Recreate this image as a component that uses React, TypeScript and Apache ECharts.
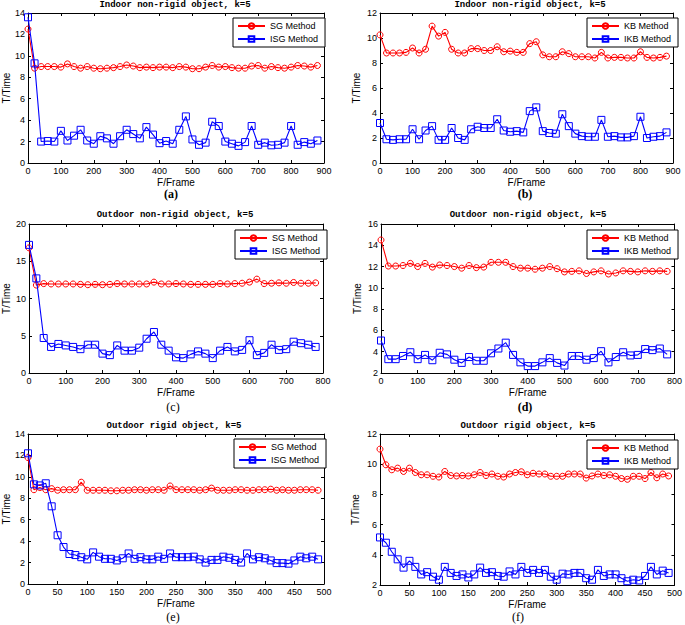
import React, { useEffect, useRef } from "react";
import * as echarts from "echarts";

// ---------- frames (x values) ----------
const FRAMES_900 = [0, 20, 40, 60, 80, 100, 120, 140, 160, 180, 200, 220, 240, 260, 280, 300, 320, 340, 360, 380, 400, 420, 440, 460, 480, 500, 520, 540, 560, 580, 600, 620, 640, 660, 680, 700, 720, 740, 760, 780, 800, 820, 840, 860, 880];
const FRAMES_800 = [0, 20, 40, 60, 80, 100, 120, 140, 160, 180, 200, 220, 240, 260, 280, 300, 320, 340, 360, 380, 400, 420, 440, 460, 480, 500, 520, 540, 560, 580, 600, 620, 640, 660, 680, 700, 720, 740, 760, 780];
const FRAMES_500 = [0, 10, 20, 30, 40, 50, 60, 70, 80, 90, 100, 110, 120, 130, 140, 150, 160, 170, 180, 190, 200, 210, 220, 230, 240, 250, 260, 270, 280, 290, 300, 310, 320, 330, 340, 350, 360, 370, 380, 390, 400, 410, 420, 430, 440, 450, 460, 470, 480, 490];

// ---------- (a) Indoor non-rigid, SG / ISG ----------
const A_SG = [12.5, 8.85, 9.0, 9.0, 9.0, 8.95, 9.25, 9.0, 8.85, 9.0, 8.85, 8.8, 8.85, 8.9, 9.0, 9.15, 9.05, 8.9, 8.95, 8.9, 8.95, 8.95, 8.9, 9.0, 8.95, 8.8, 8.8, 8.95, 9.1, 8.95, 9.0, 8.9, 8.85, 8.85, 9.05, 9.1, 8.85, 9.0, 8.9, 8.85, 8.95, 9.1, 9.05, 8.95, 9.1];
const A_ISG = [13.6, 9.3, 2.0, 2.05, 2.0, 3.0, 2.1, 2.55, 3.1, 2.1, 1.8, 2.5, 2.3, 1.8, 2.5, 3.1, 2.7, 2.3, 3.35, 2.65, 1.85, 2.05, 1.8, 3.1, 4.35, 2.2, 1.7, 1.9, 3.85, 3.45, 2.0, 1.8, 1.6, 1.95, 3.45, 1.7, 1.9, 1.65, 1.7, 1.9, 3.45, 1.7, 1.95, 1.8, 2.1];

// ---------- (b) Indoor non-rigid, KB / IKB ----------
const B_KB = [10.25, 8.8, 8.8, 8.8, 8.85, 9.2, 8.8, 9.1, 10.95, 10.15, 10.45, 9.1, 8.8, 8.8, 9.15, 9.15, 9.0, 9.0, 9.3, 8.9, 8.95, 8.85, 8.85, 9.55, 9.7, 8.65, 8.5, 8.5, 8.9, 8.75, 8.5, 8.5, 8.5, 8.4, 8.85, 8.4, 8.45, 8.45, 8.4, 8.4, 8.9, 8.45, 8.4, 8.45, 8.55];
const B_IKB = [3.2, 1.9, 1.85, 1.9, 1.9, 2.7, 1.9, 2.6, 2.95, 1.85, 1.85, 2.8, 2.0, 1.85, 2.7, 2.9, 2.8, 2.8, 3.5, 2.6, 2.5, 2.55, 2.45, 4.15, 4.45, 2.55, 2.4, 2.35, 3.9, 2.95, 2.35, 2.15, 2.1, 2.1, 3.45, 2.1, 2.15, 2.05, 2.05, 2.15, 3.7, 2.0, 2.1, 2.15, 2.45];

// ---------- (c) Outdoor non-rigid, SG / ISG ----------
const C_SG = [16.8, 11.8, 12.0, 11.95, 11.95, 11.95, 11.95, 11.9, 11.85, 11.9, 11.85, 11.9, 12.0, 11.95, 11.95, 11.95, 11.95, 12.2, 11.95, 11.95, 12.0, 11.95, 11.9, 11.9, 11.9, 11.9, 12.0, 11.95, 12.0, 12.05, 12.2, 12.6, 12.0, 12.05, 12.1, 12.05, 12.15, 12.05, 12.05, 12.1];
const C_ISG = [17.2, 12.7, 4.7, 3.5, 3.9, 3.7, 3.5, 3.2, 3.8, 3.8, 2.6, 2.4, 3.7, 3.0, 3.0, 3.4, 4.6, 5.5, 3.8, 3.0, 2.1, 2.0, 2.5, 2.9, 2.6, 2.0, 3.0, 3.5, 2.9, 3.1, 4.4, 2.4, 2.7, 3.8, 3.1, 3.2, 4.2, 4.0, 3.8, 3.5];

// ---------- (d) Outdoor non-rigid, KB / IKB ----------
const D_KB = [14.5, 12.05, 12.05, 12.1, 12.3, 12.0, 12.3, 11.95, 12.15, 12.1, 12.0, 11.85, 12.1, 11.9, 11.95, 12.4, 12.4, 12.4, 12.0, 11.85, 11.85, 11.75, 11.85, 12.0, 11.8, 11.5, 11.55, 11.6, 11.35, 11.5, 11.6, 11.3, 11.4, 11.6, 11.55, 11.5, 11.6, 11.55, 11.6, 11.55];
const D_IKB = [5.05, 3.3, 3.3, 3.6, 3.95, 3.3, 3.7, 3.2, 3.9, 3.75, 3.25, 2.95, 3.5, 3.15, 3.15, 3.85, 4.3, 4.85, 3.7, 3.0, 2.65, 2.65, 3.0, 3.4, 2.95, 2.7, 3.6, 3.6, 3.25, 3.4, 4.05, 3.0, 3.5, 3.95, 3.65, 3.7, 4.25, 4.15, 4.3, 3.75];

// ---------- (e) Outdoor rigid, SG / ISG ----------
const E_SG = [11.8, 8.8, 9.0, 8.8, 8.9, 8.75, 8.8, 8.8, 8.8, 9.5, 8.75, 8.75, 8.75, 8.75, 8.7, 8.7, 8.75, 8.75, 8.8, 8.8, 8.75, 8.8, 8.8, 8.75, 9.15, 8.8, 8.8, 8.8, 8.8, 8.75, 8.8, 8.95, 8.75, 8.75, 8.75, 8.8, 8.8, 8.75, 8.75, 8.8, 8.8, 8.85, 8.75, 8.8, 8.75, 8.75, 8.8, 8.8, 8.8, 8.75];
const E_ISG = [12.2, 9.3, 9.2, 9.4, 7.25, 4.55, 3.45, 2.8, 2.7, 2.5, 2.3, 2.95, 2.55, 2.35, 2.35, 2.2, 2.4, 2.85, 2.35, 2.5, 2.3, 2.3, 2.55, 2.35, 2.85, 2.5, 2.5, 2.5, 2.55, 2.3, 2.0, 2.25, 2.25, 2.55, 2.45, 2.25, 2.0, 2.85, 2.3, 2.5, 2.4, 2.2, 1.95, 1.95, 1.9, 2.2, 2.55, 2.4, 2.55, 2.3];

// ---------- (f) Outdoor rigid, KB / IKB ----------
const F_KB = [11.0, 9.96, 9.63, 9.74, 9.52, 9.74, 9.45, 9.3, 9.3, 9.2, 9.15, 9.52, 9.25, 9.22, 9.25, 9.22, 9.3, 9.45, 9.25, 9.35, 9.2, 9.15, 9.35, 9.45, 9.5, 9.3, 9.4, 9.35, 9.35, 9.2, 9.2, 9.2, 9.35, 9.35, 9.35, 9.08, 9.22, 9.35, 9.25, 9.3, 9.2, 9.05, 9.0, 9.2, 9.2, 9.05, 9.45, 9.1, 9.35, 9.22];
const F_IKB = [5.15, 4.8, 4.2, 3.7, 3.15, 3.6, 3.2, 2.7, 2.85, 2.55, 2.35, 3.2, 2.8, 2.6, 2.7, 2.5, 2.7, 3.15, 2.8, 2.85, 2.6, 2.55, 2.9, 2.7, 3.2, 2.8, 3.0, 2.8, 3.0, 2.55, 2.35, 2.75, 2.7, 2.8, 2.8, 2.45, 2.35, 3.0, 2.6, 2.7, 2.7, 2.45, 2.25, 2.35, 2.3, 2.6, 3.2, 2.7, 2.95, 2.8];

// ---------- texts ----------
const TITLES = [
  "Indoor non-rigid object, k=5",
  "Indoor non-rigid object, k=5",
  "Outdoor non-rigid object, k=5",
  "Outdoor non-rigid object, k=5",
  "Outdoor rigid object, k=5",
  "Outdoor rigid object, k=5",
];
const SUB_LABELS = ["(a)", "(b)", "(c)", "(d)", "(e)", "(f)"];
const SERIES_NAMES = [
  ["SG Method", "ISG Method"],
  ["KB Method", "IKB Method"],
  ["SG Method", "ISG Method"],
  ["KB Method", "IKB Method"],
  ["SG Method", "ISG Method"],
  ["KB Method", "IKB Method"],
];
const X_NAME = "F/Frame";
const Y_NAME = "T/Time";

// ---------- layout (positions & styles) ----------
const PANELS = [
  { grid: { left: 27, top: 13, width: 297, height: 150 }, x: [0, 900, 100], y: [0, 14, 2], frames: FRAMES_900, red: A_SG, blue: A_ISG, legend: { left: 233, top: 18 }, title: [175, 5], sub: [171, 194, true], yGap: 17 },
  { grid: { left: 380, top: 13, width: 293, height: 150 }, x: [0, 900, 100], y: [0, 12, 2], frames: FRAMES_900, red: B_KB, blue: B_IKB, legend: { left: 587, top: 18 }, title: [530, 5], sub: [525, 194, true], yGap: 19 },
  { grid: { left: 28, top: 224, width: 295, height: 149 }, x: [0, 800, 100], y: [0, 20, 5], frames: FRAMES_800, red: C_SG, blue: C_ISG, legend: { left: 235, top: 230 }, title: [175, 215], sub: [173, 407, false], yGap: 18 },
  { grid: { left: 381, top: 224, width: 294, height: 149 }, x: [0, 800, 100], y: [2, 16, 2], frames: FRAMES_800, red: D_KB, blue: D_IKB, legend: { left: 587, top: 230 }, title: [528, 215], sub: [525, 407, true], yGap: 19 },
  { grid: { left: 27, top: 434, width: 297, height: 150 }, x: [0, 500, 50], y: [0, 14, 2], frames: FRAMES_500, red: E_SG, blue: E_ISG, legend: { left: 234, top: 439 }, title: [174, 426], sub: [173, 617, false], yGap: 17 },
  { grid: { left: 380, top: 434, width: 296, height: 151 }, x: [0, 500, 50], y: [2, 12, 2], frames: FRAMES_500, red: F_KB, blue: F_IKB, legend: { left: 587, top: 440 }, title: [528, 426], sub: [518, 617, false], yGap: 20 },
];

const RED = "#ff0000";
const BLUE = "#0000ff";
const SANS = "Liberation Sans, Arial, sans-serif";

function buildOption() {
  const grid: any[] = [];
  const xAxis: any[] = [];
  const yAxis: any[] = [];
  const series: any[] = [];
  const legend: any[] = [];
  const graphic: any[] = [];

  const axisLine = { show: true, onZero: false, lineStyle: { color: "#000", width: 1 } };
  const axisTick = { show: true, inside: true, length: 3, lineStyle: { color: "#000", width: 1 } };

  PANELS.forEach((p, i) => {
    grid.push({ ...p.grid, containLabel: false, show: true, backgroundColor: "#fff", borderWidth: 0 });
    xAxis.push({
      type: "value", gridIndex: i, position: "bottom", min: p.x[0], max: p.x[1], interval: p.x[2],
      axisLine, axisTick, splitLine: { show: false },
      axisLabel: { show: true, margin: 3, fontSize: 9, color: "#000", fontFamily: SANS },
      name: X_NAME, nameLocation: "middle", nameGap: 14,
      nameTextStyle: { fontSize: 10, color: "#000", fontFamily: SANS },
    });
    xAxis.push({
      type: "value", gridIndex: i, position: "top", min: p.x[0], max: p.x[1], interval: p.x[2],
      axisLine, axisTick, splitLine: { show: false }, axisLabel: { show: false },
    });
    yAxis.push({
      type: "value", gridIndex: i, position: "left", min: p.y[0], max: p.y[1], interval: p.y[2],
      axisLine, axisTick, splitLine: { show: false },
      axisLabel: { show: true, margin: 3, fontSize: 9, color: "#000", fontFamily: SANS },
      name: Y_NAME, nameLocation: "middle", nameGap: p.yGap,
      nameTextStyle: { fontSize: 10, color: "#000", fontFamily: SANS },
    });
    yAxis.push({
      type: "value", gridIndex: i, position: "right", min: p.y[0], max: p.y[1], interval: p.y[2],
      axisLine, axisTick, splitLine: { show: false }, axisLabel: { show: false },
    });

    const names = SERIES_NAMES[i];
    series.push({
      type: "line", name: names[0], xAxisIndex: 2 * i, yAxisIndex: 2 * i,
      data: p.frames.map((f, k) => [f, p.red[k]]),
      symbol: "circle", symbolSize: 6,
      lineStyle: { color: RED, width: 1.1 },
      itemStyle: { color: "rgba(255,255,255,0)", borderColor: RED, borderWidth: 1 },
      emphasis: { disabled: true },
      z: 2,
    });
    series.push({
      type: "line", name: names[1], xAxisIndex: 2 * i, yAxisIndex: 2 * i,
      data: p.frames.map((f, k) => [f, p.blue[k]]),
      symbol: "rect", symbolSize: 7,
      lineStyle: { color: BLUE, width: 1.1 },
      itemStyle: { color: "rgba(255,255,255,0)", borderColor: BLUE, borderWidth: 1 },
      emphasis: { disabled: true },
      z: 3,
    });

    legend.push({
      data: names, orient: "vertical", left: p.legend.left, top: p.legend.top,
      backgroundColor: "#fff", borderColor: "#000", borderWidth: 1, borderRadius: 0,
      padding: [3, 7, 3, 4], itemGap: 3, itemWidth: 27, itemHeight: 7,
      textStyle: { fontSize: 9, color: "#000", fontFamily: SANS, lineHeight: 10 },
      selectedMode: false,
    });

    graphic.push({
      type: "text", x: p.title[0], y: p.title[1], z: 10,
      style: {
        text: TITLES[i], fill: "#000",
        font: "bold 9px 'Liberation Mono', 'Courier New', monospace",
        align: "center", verticalAlign: "middle", textAlign: "center", textVerticalAlign: "middle",
      },
    });
    graphic.push({
      type: "text", x: p.sub[0], y: p.sub[1], z: 10,
      style: {
        text: SUB_LABELS[i], fill: "#000",
        font: (p.sub[2] ? "bold " : "") + "12px 'Liberation Serif', 'Times New Roman', serif",
        align: "center", verticalAlign: "middle", textAlign: "center", textVerticalAlign: "middle",
      },
    });
  });

  return {
    animation: false,
    backgroundColor: "#fff",
    grid, xAxis, yAxis, series, legend, graphic,
  };
}

export default function App() {
  const ref = useRef<HTMLDivElement>(null);
  useEffect(() => {
    if (!ref.current) return;
    const chart = echarts.init(ref.current, undefined, { renderer: "svg" });
    chart.setOption(buildOption() as any);
    return () => chart.dispose();
  }, []);
  return (
    <div
      ref={ref}
      style={{ position: "fixed", left: 0, top: 0, width: 685, height: 625, background: "#fff" }}
    />
  );
}
